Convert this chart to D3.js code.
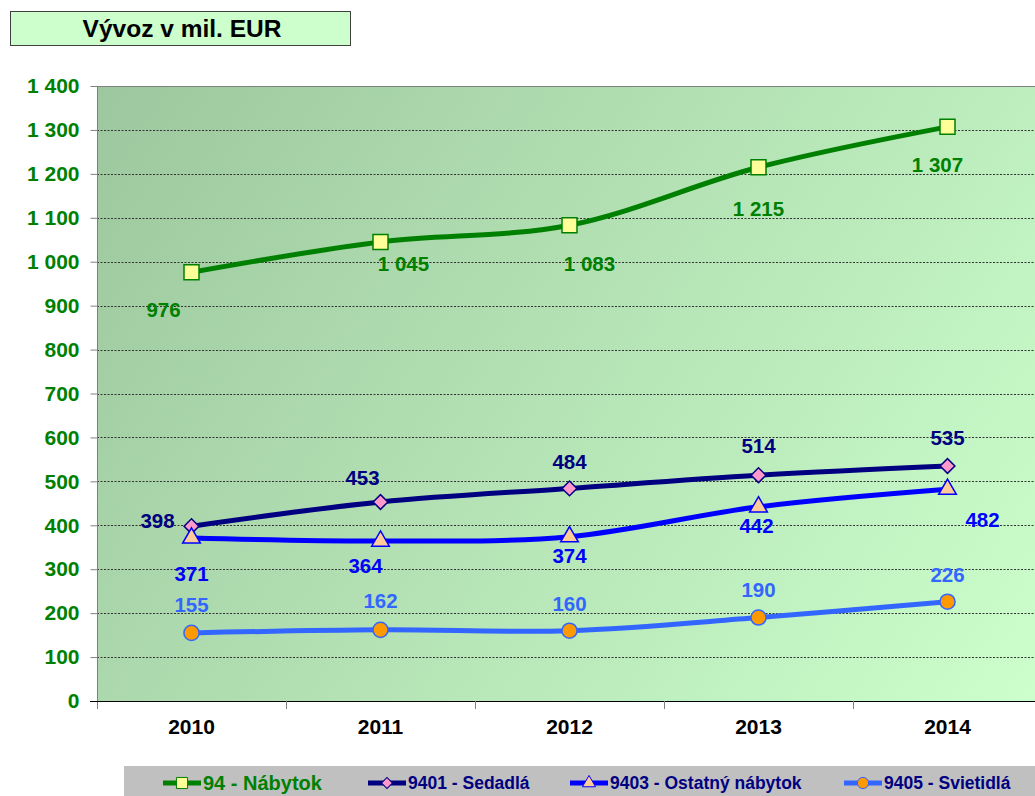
<!DOCTYPE html>
<html>
<head>
<meta charset="utf-8">
<script src="https://cdn.jsdelivr.net/npm/d3@7"></script>
<style>
  body { margin: 0; background: #fff; }
  text { font-family: "Liberation Sans", Arial, sans-serif; font-weight: bold; }
</style>
</head>
<body>
<svg width="1035" height="796"></svg>
<script>
var years = ["2010", "2011", "2012", "2013", "2014"];
var nabytok = [976, 1045, 1083, 1215, 1307];
var sedadla = [398, 453, 484, 514, 535];
var ostatny = [371, 364, 374, 442, 482];
var svietidla = [155, 162, 160, 190, 226];
var yTicks = [0, 100, 200, 300, 400, 500, 600, 700, 800, 900, 1000, 1100, 1200, 1300, 1400];
var seriesNames = ["94 - Nábytok", "9401 - Sedadlá", "9403 - Ostatný nábytok", "9405 - Svietidlá"];

// hand placed label offsets, like the original chart
var nabytokLabelPos = [[-28, 45], [23, 29], [20, 46], [0, 49], [-10, 45]];
var sedadlaLabelPos = [[-34, 2], [-18, -17], [0, -19], [0, -22], [0, -21]];
var ostatnyLabelPos = [[0, 43], [-15, 32], [0, 26], [-2, 26], [35, 38]];
var svietidlaLabelPos = [[0, -21], [0, -22], [0, -20], [0, -21], [0, -20]];

var svg = d3.select("svg"),
    width = +svg.attr("width"),
    height = +svg.attr("height");

var plotLeft = 97, plotTop = 86, plotBottom = 701, band = 189;

var x = d3.scaleBand()
    .domain(years)
    .range([plotLeft, plotLeft + band * years.length]);

var y = d3.scaleLinear()
    .domain([0, 1400])
    .range([plotBottom, plotTop]);

var fmt = d3.formatLocale({decimal: ",", thousands: " ", grouping: [3], currency: ["", ""]}).format(",");

var series = [
  {name: seriesNames[0], values: nabytok, labels: nabytokLabelPos, color: "#008000", fill: "#ffff99",
   stroke: "#008000", labelColor: "#008000", symbol: d3.symbolSquare, size: 225, rotate: 0},
  {name: seriesNames[1], values: sedadla, labels: sedadlaLabelPos, color: "#000080", fill: "#ff99cc",
   stroke: "#000080", labelColor: "#000080", symbol: d3.symbolSquare, size: 110, rotate: 45},
  {name: seriesNames[2], values: ostatny, labels: ostatnyLabelPos, color: "#0000ff", fill: "#ffcc99",
   stroke: "#0000ff", labelColor: "#0000ff", symbol: d3.symbolTriangle, size: 135, rotate: 0},
  {name: seriesNames[3], values: svietidla, labels: svietidlaLabelPos, color: "#3366ff", fill: "#ff9900",
   stroke: "#3366ff", labelColor: "#3366ff", symbol: d3.symbolCircle, size: 180, rotate: 0}
];

// plot background gradient
var defs = svg.append("defs");
var grad = defs.append("linearGradient")
    .attr("id", "bg")
    .attr("gradientUnits", "userSpaceOnUse")
    .attr("x1", plotLeft).attr("y1", plotTop)
    .attr("x2", width).attr("y2", plotBottom);
grad.append("stop").attr("offset", "0%").attr("stop-color", "#9dc79e");
grad.append("stop").attr("offset", "100%").attr("stop-color", "#ccffcc");

svg.append("rect")
    .attr("x", plotLeft).attr("y", plotTop)
    .attr("width", width - plotLeft).attr("height", plotBottom - plotTop)
    .attr("fill", "url(#bg)");

// title box
svg.append("rect")
    .attr("x", 10.5).attr("y", 11.5)
    .attr("width", 340).attr("height", 34)
    .attr("fill", "#ccffcc")
    .attr("stroke", "#404040");
svg.append("text")
    .attr("x", 182).attr("y", 37)
    .attr("text-anchor", "middle")
    .attr("font-size", 24.5)
    .attr("fill", "#000")
    .text("Vývoz v mil. EUR");

// gridlines
svg.append("g")
  .selectAll("line")
  .data(yTicks.filter(function(d) { return d > 0 && d < 1400; }))
  .enter().append("line")
    .attr("x1", plotLeft).attr("x2", width)
    .attr("y1", function(d) { return Math.round(y(d)) + 0.5; })
    .attr("y2", function(d) { return Math.round(y(d)) + 0.5; })
    .attr("stroke", "#333")
    .attr("stroke-dasharray", "2,1.5");

// top border
svg.append("line")
    .attr("x1", plotLeft).attr("x2", width)
    .attr("y1", plotTop + 0.5).attr("y2", plotTop + 0.5)
    .attr("stroke", "#808080");

// y axis
var yAxis = svg.append("g")
    .attr("transform", "translate(" + (plotLeft + 0.5) + ",0)")
    .call(d3.axisLeft(y).tickValues(yTicks).tickSize(7).tickPadding(11).tickFormat(fmt));
yAxis.select(".domain").attr("stroke", "#808080").attr("d", "M0," + plotTop + "V" + (plotBottom + 8));
yAxis.selectAll(".tick line").attr("stroke", "#808080");
yAxis.selectAll(".tick text")
    .attr("font-size", 21)
    .attr("font-family", "Liberation Sans, Arial, sans-serif")
    .attr("font-weight", "bold")
    .attr("fill", "#008000");

// x axis
svg.append("line")
    .attr("x1", plotLeft - 7).attr("x2", width)
    .attr("y1", plotBottom + 0.5).attr("y2", plotBottom + 0.5)
    .attr("stroke", "#000");
svg.append("g")
  .selectAll("line")
  .data(years.slice(1))
  .enter().append("line")
    .attr("x1", function(d) { return Math.round(x(d)) + 0.5; })
    .attr("x2", function(d) { return Math.round(x(d)) + 0.5; })
    .attr("y1", plotBottom).attr("y2", plotBottom + 8)
    .attr("stroke", "#808080");
svg.append("g")
  .selectAll("text")
  .data(years)
  .enter().append("text")
    .attr("x", function(d) { return x(d) + x.bandwidth() / 2; })
    .attr("y", 734)
    .attr("text-anchor", "middle")
    .attr("font-size", 21)
    .attr("fill", "#000")
    .text(function(d) { return d; });

// lines
var line = d3.line()
    .x(function(d, i) { return x(years[i]) + x.bandwidth() / 2; })
    .y(function(d) { return y(d); })
    .curve(d3.curveCatmullRom.alpha(0.5));

var plot = svg.append("g");

series.forEach(function(s) {
  plot.append("path")
      .datum(s.values)
      .attr("fill", "none")
      .attr("stroke", s.color)
      .attr("stroke-width", 5)
      .attr("d", line);
});

series.forEach(function(s) {
  var sym = d3.symbol().type(s.symbol).size(s.size);
  plot.append("g")
    .selectAll("path")
    .data(s.values)
    .enter().append("path")
      .attr("d", sym)
      .attr("transform", function(d, i) {
        return "translate(" + (x(years[i]) + x.bandwidth() / 2) + "," + y(d) + ") rotate(" + s.rotate + ")";
      })
      .attr("fill", s.fill)
      .attr("stroke", s.stroke)
      .attr("stroke-width", 1.5);

  plot.append("g")
    .selectAll("text")
    .data(s.values)
    .enter().append("text")
      .attr("x", function(d, i) { return x(years[i]) + x.bandwidth() / 2 + s.labels[i][0]; })
      .attr("y", function(d, i) { return y(d) + s.labels[i][1]; })
      .attr("text-anchor", "middle")
      .attr("font-size", 20.5)
      .attr("fill", s.labelColor)
      .text(function(d) { return fmt(d); });
});

// legend
var legendX = [163, 368, 570, 844];
svg.append("rect")
    .attr("x", 124).attr("y", 766)
    .attr("width", width - 124).attr("height", 30)
    .attr("fill", "#c0c0c0");

var legend = svg.append("g")
  .selectAll("g")
  .data(series)
  .enter().append("g")
    .attr("transform", function(d, i) { return "translate(" + legendX[i] + ",783)"; });

legend.append("line")
    .attr("x1", 0).attr("x2", 38)
    .attr("stroke", function(d) { return d.color; })
    .attr("stroke-width", 5);
legend.append("path")
    .attr("d", function(d) { return d3.symbol().type(d.symbol).size(d.size * 0.55)(); })
    .attr("transform", function(d) { return "translate(19,0) rotate(" + d.rotate + ")"; })
    .attr("fill", function(d) { return d.fill; })
    .attr("stroke", function(d) { return d.stroke; })
    .attr("stroke-width", 1);
legend.append("text")
    .attr("x", 40)
    .attr("y", function(d, i) { return i === 0 ? 7 : 6; })
    .attr("font-size", function(d, i) { return i === 0 ? 20 : 17.5; })
    .attr("fill", function(d, i) { return i === 0 ? "#008000" : "#000080"; })
    .text(function(d) { return d.name; });
</script>
</body>
</html>
